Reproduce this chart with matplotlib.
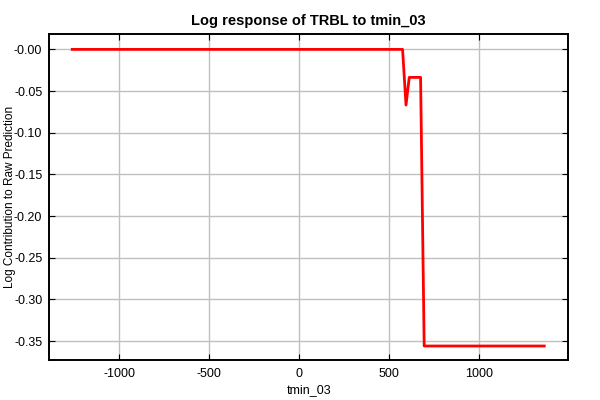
import matplotlib
matplotlib.use("Agg")
import matplotlib.pyplot as plt
from matplotlib.ticker import FuncFormatter

# response curve
tmin_03 = [-1261, 574, 593, 611, 674, 694, 1361]
log_contrib = [0.0, 0.0, -0.0668, -0.0336, -0.0336, -0.356, -0.356]

x_ticks = [-1000, -500, 0, 500, 1000]
y_ticks = [0.0, -0.05, -0.10, -0.15, -0.20, -0.25, -0.30, -0.35]

plt.rcParams["font.family"] = ["Liberation Sans", "DejaVu Sans"]
plt.rcParams["axes.unicode_minus"] = False

fig = plt.figure(figsize=(6, 4), dpi=100)
ax = fig.add_axes([0.082, 0.1, 0.865, 0.814])

ax.plot(tmin_03, log_contrib, color="#ff0000", linewidth=2.0, zorder=3)

ax.set_xlim(-1389, 1494)
ax.set_ylim(-0.3728, 0.018)
ax.set_xticks(x_ticks)
ax.set_yticks(y_ticks)
ax.yaxis.set_major_formatter(FuncFormatter(lambda v, p: "-%.2f" % abs(v)))

ax.grid(True, color="#c0c0c0", linewidth=1.0)
ax.set_axisbelow(True)
for s in ax.spines.values():
    s.set_linewidth(1.4)
    s.set_color("black")

ax.tick_params(axis="y", direction="in", length=4, labelsize=9, right=True, pad=5)
ax.tick_params(axis="x", direction="in", length=4, labelsize=9, top=True, pad=6)

ax.set_xlabel("tmin_03", fontsize=9, labelpad=3)
ax.set_ylabel("Log Contribution to Raw Prediction", fontsize=8.5)
ax.yaxis.set_label_coords(-0.064, 0.5)
ax.set_title("Log response of TRBL to tmin_03", fontsize=10.5, fontweight="bold", pad=7)

fig.savefig("out.png", dpi=100)
